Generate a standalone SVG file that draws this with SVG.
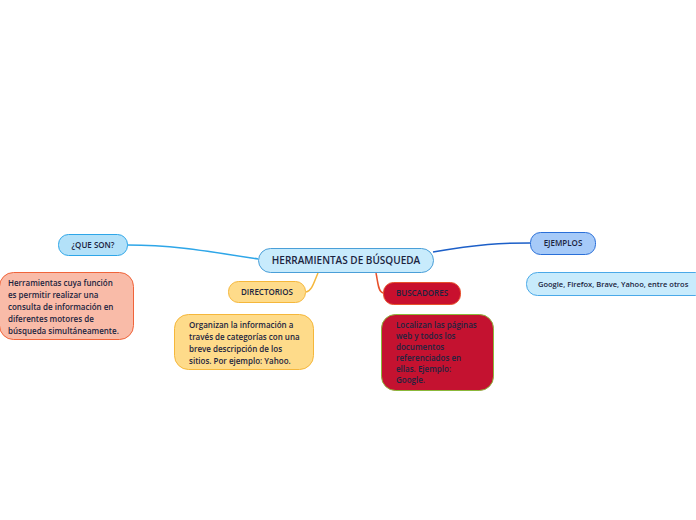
<svg xmlns="http://www.w3.org/2000/svg" width="696" height="520" viewBox="0 0 696 520">
<style>
text{font-family:"Open Sans","Noto Sans",sans-serif;font-size:8px;font-weight:600;fill:#1b2440;}
.c{text-anchor:middle;}
.lnk{fill:none;stroke-width:1.5;}
</style>
<rect width="696" height="520" fill="#fff"/>
<g id="connectors">
<path class="lnk" d="M258,259 C200,250 170,245 127,245" stroke="#2ea6e8"/>
<path class="lnk" d="M433,252 C480,244 500,243 530,243" stroke="#1c5fc8"/>
<path class="lnk" d="M318,273 C314,282 312,291 306,292" stroke="#f5b73b"/>
<path class="lnk" d="M376,273 C378,282 378,292 383,293" stroke="#e8502a"/>
</g>
<g id="central">
<rect x="258.5" y="248.5" width="175" height="24" rx="12" fill="#c8ebfc" stroke="#4a9fd8"/>
<text class="c" x="346" y="264" style="font-size:10px">HERRAMIENTAS DE BÚSQUEDA</text>
</g>
<g id="queson">
<rect x="58.5" y="234.5" width="69" height="21" rx="10" fill="#b3e1f9" stroke="#2ea6e8"/>
<text class="c" x="93" y="248">¿QUE SON?</text>
</g>
<g id="queson-desc">
<rect x="-0.5" y="272.5" width="134" height="67" rx="14" fill="#f9bba8" stroke="#f0643a"/>
<text x="8" y="286">Herramientas cuya función</text>
<text x="8" y="298">es permitir realizar una</text>
<text x="8" y="310">consulta de información en</text>
<text x="8" y="322">diferentes motores de</text>
<text x="8" y="334">búsqueda simultáneamente.</text>
</g>
<g id="directorios">
<rect x="228.5" y="281.5" width="77" height="21" rx="10" fill="#fedb8a" stroke="#f5b73b"/>
<text class="c" x="267" y="295">DIRECTORIOS</text>
</g>
<g id="directorios-desc">
<rect x="174.5" y="314.5" width="139" height="55" rx="14" fill="#fedb8a" stroke="#f5b73b"/>
<text x="189" y="328">Organizan la información a</text>
<text x="189" y="340">través de categorías con una</text>
<text x="189" y="352">breve descripción de los</text>
<text x="189" y="364">sitios. Por ejemplo: Yahoo.</text>
</g>
<g id="buscadores">
<rect x="383.5" y="282.5" width="77" height="22" rx="10" fill="#c8102e" stroke="#e8502a"/>
<text class="c" x="422" y="296">BUSCADORES</text>
</g>
<g id="buscadores-desc">
<rect x="381.5" y="314.5" width="112" height="76" rx="14" fill="#c41230" stroke="#8bb83a"/>
<text x="396" y="328">Localizan las páginas</text>
<text x="396" y="339">web y todos los</text>
<text x="396" y="350">documentos</text>
<text x="396" y="361">referenciados en</text>
<text x="396" y="372">ellas. Ejemplo:</text>
<text x="396" y="383">Google.</text>
</g>
<g id="ejemplos">
<rect x="530.5" y="232.5" width="65" height="22" rx="10" fill="#a6caf8" stroke="#2a6fd8"/>
<text class="c" x="563" y="246">EJEMPLOS</text>
</g>
<g id="ejemplos-desc">
<rect x="526.5" y="272.5" width="180" height="23" rx="11" fill="#c8ebfc" stroke="#4aa9e8"/>
<text x="538" y="287" style="font-size:7.5px">Google, Firefox, Brave, Yahoo, entre otros</text>
</g>
</svg>
